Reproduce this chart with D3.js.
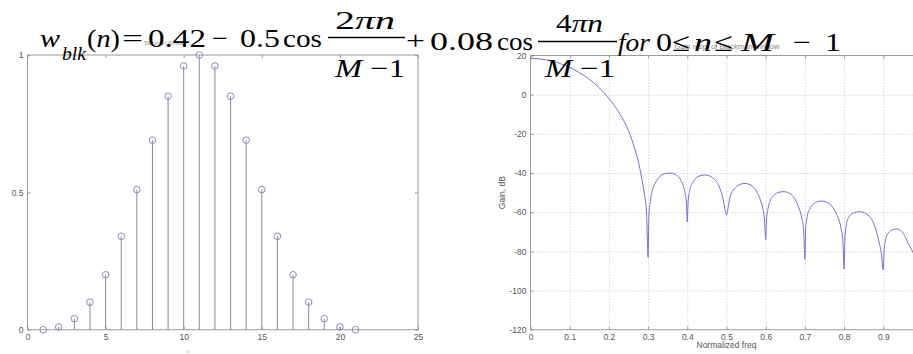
<!DOCTYPE html>
<html>
<head>
<meta charset="utf-8">
<script src="https://cdn.jsdelivr.net/npm/d3@7/dist/d3.min.js"></script>
<style>
  html, body { margin: 0; padding: 0; background: #fff; }
  svg { display: block; }
  .tick text { font-family: "Liberation Sans", Arial, sans-serif; font-size: 8.5px; fill: #555; }
</style>
</head>
<body>
<svg id="chart" width="913" height="354"></svg>
<script>
// Blackman window samples (M = 21), plotted at n = 1..21
const stemN = [1, 2, 3, 4, 5, 6, 7, 8, 9, 10, 11, 12, 13, 14, 15, 16, 17, 18, 19, 20, 21];
const stemW = [0, 0.01, 0.04, 0.10, 0.20, 0.34, 0.51, 0.69, 0.85, 0.96, 1.00,
               0.96, 0.85, 0.69, 0.51, 0.34, 0.20, 0.10, 0.04, 0.01, 0];
const leftXTicks = [0, 5, 10, 15, 20, 25];
const leftYTicks = [0, 0.5, 1];

// Gain response of the window, dB vs normalized frequency
const gainFreq = [
  0, 0.025, 0.05, 0.075, 0.1, 0.125, 0.15, 0.175, 0.2, 0.225, 0.25, 0.265, 0.275, 0.283, 0.29, 0.296, 0.3,
  0.302, 0.306, 0.312, 0.32, 0.33, 0.34, 0.355, 0.37, 0.38, 0.388, 0.394, 0.398, 0.4,
  0.402, 0.406, 0.412, 0.42, 0.43, 0.445, 0.46, 0.47, 0.478, 0.486, 0.493, 0.497, 0.5,
  0.503, 0.508, 0.515, 0.525, 0.535, 0.547, 0.56, 0.57, 0.578, 0.586, 0.592, 0.597, 0.6,
  0.602, 0.606, 0.612, 0.62, 0.63, 0.645, 0.66, 0.67, 0.678, 0.686, 0.692, 0.697, 0.7,
  0.702, 0.706, 0.712, 0.72, 0.73, 0.742, 0.755, 0.767, 0.777, 0.786, 0.792, 0.797, 0.8,
  0.802, 0.806, 0.812, 0.82, 0.83, 0.84, 0.852, 0.864, 0.874, 0.882, 0.889, 0.895, 0.9,
  0.902, 0.905, 0.91, 0.918, 0.926, 0.935, 0.944, 0.951, 0.957, 0.963, 0.969, 0.975, 0.985, 0.993, 1.0
];
const gainDb = [
  18.5, 18.2, 17.4, 15.9, 14.0, 11.2, 7.9, 3.6, -1.9, -8.9, -18.4, -27, -34, -42, -50, -60, -83,
  -62, -54, -48, -44.5, -41.8, -40.5, -40, -40.8, -42.5, -45.5, -50, -56, -65,
  -55, -49, -45.5, -43, -41.6, -41, -41.8, -43.3, -45.5, -49.5, -55, -59.5, -61.4,
  -59, -53, -49.5, -47, -45.8, -45.3, -46, -47.5, -49.8, -53.5, -57.5, -64, -74,
  -64, -58, -54, -51.5, -50.1, -49.5, -50.3, -52, -54.5, -58.5, -63, -70, -84,
  -68, -62, -58.5, -56, -54.8, -54.3, -54.8, -56.5, -59.5, -63.5, -68, -75, -89,
  -74, -66, -62.5, -60.8, -60, -59.8, -60.3, -62, -65, -69.5, -75, -81, -89.5,
  -80, -75, -71.5, -69.6, -68.8, -68.6, -69.4, -70.8, -73, -75.9, -78, -80.2, -86, -95, -110
];
const rightXTicks = [0, 0.1, 0.2, 0.3, 0.4, 0.5, 0.6, 0.7, 0.8, 0.9];
const rightYTicks = [20, 0, -20, -40, -60, -80, -100, -120];

const svg = d3.select("#chart");
const boxColor = "#9a9a9a";
const sans = "Liberation Sans, Arial, sans-serif";
const serif = "Liberation Serif, Times New Roman, DejaVu Serif, serif";
const fmt = d => String(d); // plain hyphen-minus for negatives

function styleAxis(g) {
  g.select(".domain").remove();
  g.selectAll(".tick line").attr("stroke", boxColor);
}

// ---------- left panel: stem plot ----------
const L = { left: 27.5, right: 418, top: 55, bottom: 329.7 };
const xL = d3.scaleLinear().domain([0, 25]).range([L.left, L.right]);
const yL = d3.scaleLinear().domain([0, 1]).range([L.bottom, L.top]);
const gl = svg.append("g");

gl.append("rect").attr("x", L.left).attr("y", L.top)
  .attr("width", L.right - L.left).attr("height", L.bottom - L.top)
  .attr("fill", "none").attr("stroke", boxColor).attr("stroke-width", 1);

gl.append("g").attr("transform", `translate(0,${L.bottom})`)
  .call(d3.axisBottom(xL).tickValues(leftXTicks).tickSize(-3).tickPadding(4).tickFormat(fmt)).call(styleAxis);
gl.append("g").attr("transform", `translate(0,${L.top})`)
  .call(d3.axisTop(xL).tickValues(leftXTicks).tickSize(-3).tickFormat("")).call(styleAxis);
gl.append("g").attr("transform", `translate(${L.left},0)`)
  .call(d3.axisLeft(yL).tickValues(leftYTicks).tickSize(-3).tickPadding(4).tickFormat(fmt)).call(styleAxis);
gl.append("g").attr("transform", `translate(${L.right},0)`)
  .call(d3.axisRight(yL).tickValues(leftYTicks).tickSize(-3).tickFormat("")).call(styleAxis);

const stems = stemN.map((n, i) => ({ n, w: stemW[i] }));
gl.selectAll("line.stem").data(stems).join("line").attr("class", "stem")
  .attr("x1", d => xL(d.n)).attr("x2", d => xL(d.n))
  .attr("y1", yL(0)).attr("y2", d => yL(d.w))
  .attr("stroke", "#8888a8").attr("stroke-width", 1);
gl.selectAll("circle.mark").data(stems).join("circle").attr("class", "mark")
  .attr("cx", d => xL(d.n)).attr("cy", d => yL(d.w)).attr("r", 3.3)
  .attr("fill", "none").attr("stroke", "#8a8ab8").attr("stroke-width", 1);

gl.append("text").attr("x", 165).attr("y", 45).attr("text-anchor", "middle")
  .attr("font-family", sans).attr("font-size", 5).attr("fill", "#999")
  .text("Blackman Window");
gl.append("text").attr("x", 188).attr("y", 353).attr("text-anchor", "middle")
  .attr("font-family", sans).attr("font-size", 5).attr("fill", "#999")
  .text("n");

// ---------- right panel: gain response ----------
const R = { left: 530.5, right: 922.5, top: 55.5, bottom: 329.7 };
const xR = d3.scaleLinear().domain([0, 1]).range([R.left, R.right]);
const yR = d3.scaleLinear().domain([-120, 20]).range([R.bottom, R.top]);
const gr = svg.append("g");

// dotted grid
gr.append("g").attr("transform", `translate(0,${R.bottom})`)
  .call(d3.axisBottom(xR).tickValues(rightXTicks.slice(1)).tickSize(-(R.bottom - R.top)).tickFormat(""))
  .call(g => { g.select(".domain").remove();
    g.selectAll(".tick line").attr("stroke", "#c4c4c4").attr("stroke-dasharray", "1,2"); });
gr.append("g").attr("transform", `translate(${R.left},0)`)
  .call(d3.axisLeft(yR).tickValues(rightYTicks.slice(1, -1)).tickSize(-(R.right - R.left)).tickFormat(""))
  .call(g => { g.select(".domain").remove();
    g.selectAll(".tick line").attr("stroke", "#c4c4c4").attr("stroke-dasharray", "1,2"); });

gr.append("rect").attr("x", R.left).attr("y", R.top)
  .attr("width", R.right - R.left).attr("height", R.bottom - R.top)
  .attr("fill", "none").attr("stroke", boxColor).attr("stroke-width", 1);

gr.append("g").attr("transform", `translate(0,${R.bottom})`)
  .call(d3.axisBottom(xR).tickValues(rightXTicks).tickSize(-3).tickPadding(4).tickFormat(fmt)).call(styleAxis);
gr.append("g").attr("transform", `translate(0,${R.top})`)
  .call(d3.axisTop(xR).tickValues(rightXTicks).tickSize(-3).tickFormat("")).call(styleAxis);
gr.append("g").attr("transform", `translate(${R.left},0)`)
  .call(d3.axisLeft(yR).tickValues(rightYTicks).tickSize(-3).tickPadding(4).tickFormat(fmt)).call(styleAxis);

svg.append("clipPath").attr("id", "clipR").append("rect")
  .attr("x", R.left).attr("y", R.top).attr("width", R.right - R.left).attr("height", R.bottom - R.top);

const gain = gainFreq.map((f, i) => ({ f, db: gainDb[i] }));
gr.append("path").datum(gain)
  .attr("clip-path", "url(#clipR)")
  .attr("fill", "none").attr("stroke", "#6f6fd6").attr("stroke-width", 1)
  .attr("d", d3.line().x(d => xR(d.f)).y(d => yR(d.db)).curve(d3.curveMonotoneX));

gr.append("text").attr("x", 726.5).attr("y", 348).attr("text-anchor", "middle")
  .attr("font-family", sans).attr("font-size", 8.5).attr("fill", "#555")
  .text("Normalized freq");
gr.append("text").attr("transform", "translate(505,192.6) rotate(-90)").attr("text-anchor", "middle")
  .attr("font-family", sans).attr("font-size", 8.5).attr("fill", "#555")
  .text("Gain, dB");
gr.append("text").attr("x", 727).attr("y", 49).attr("text-anchor", "middle")
  .attr("font-family", sans).attr("font-size", 7.5).attr("fill", "#888")
  .text("Gain resp. of Blackman window");

// ---------- window definition formula (stretched serif equation) ----------
const fg = svg.append("g");
// parts: [text pieces as [string, italic]], x, baseline, width, size
function put(parts, x, y, width, size = 26) {
  const t = fg.append("text").attr("x", x).attr("y", y)
    .attr("font-family", serif).attr("font-size", size).attr("fill", "#000")
    .attr("textLength", width).attr("lengthAdjust", "spacingAndGlyphs");
  parts.forEach(([s, it]) => {
    const sp = t.append("tspan").text(s);
    if (it) sp.attr("font-style", "italic");
  });
  return t;
}
function bar(x1, x2, y) {
  fg.append("line").attr("x1", x1).attr("x2", x2).attr("y1", y).attr("y2", y)
    .attr("stroke", "#000").attr("stroke-width", 1.6);
}
put([["w", true]], 40, 47, 20);
put([["blk", true]], 62, 60, 24, 18);
put([["(", false], ["n", true], [")", false]], 87, 47, 33);
put([["=", false]], 122, 47, 21);
put([["0.42", false]], 148, 47, 58);
put([["\u2212", false]], 212, 47, 16);
put([["0.5", false]], 240, 47, 40);
put([["cos", false]], 283, 47, 39);
bar(328, 405, 37.5);
put([["2", false], ["\u03c0n", true]], 335, 28.5, 60);
put([["M ", true], ["\u22121", false]], 335, 76.5, 70);

put([["+", false]], 406, 48.5, 19);
put([["0.08", false]], 430, 50, 63);
put([["cos", false]], 497, 50, 36);
bar(538, 617, 41.5);
put([["4", false], ["\u03c0n", true]], 556, 31.5, 47);
put([["M ", true], ["\u22121", false]], 545, 77, 70);

put([["for", true]], 618, 51, 32);
put([["0", false]], 656, 51, 16);
put([["\u2264", false]], 672, 51, 18);
put([["n", true]], 694, 51, 18);
put([["\u2264", false]], 714, 51, 19);
put([["M", true]], 741, 51, 33);
put([["\u2212", false]], 793, 51, 18);
put([["1", false]], 825, 51, 16);
</script>
</body>
</html>
